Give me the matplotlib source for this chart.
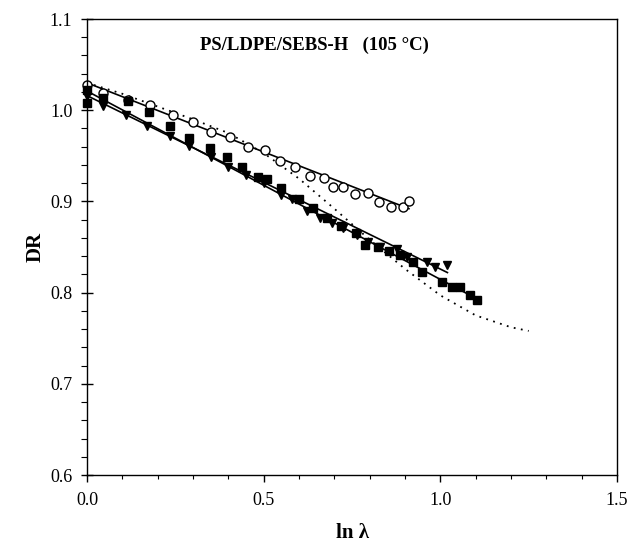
import matplotlib
matplotlib.use("Agg")
import matplotlib.pyplot as plt
from matplotlib.ticker import MultipleLocator

plt.rcParams['font.family'] = ['Liberation Serif', 'DejaVu Serif']

# open circles
circ_x = [0.0, 0.045, 0.116, 0.178, 0.243, 0.30, 0.352, 0.405, 0.456, 0.504, 0.546, 0.59,
          0.631, 0.671, 0.696, 0.724, 0.759, 0.795, 0.827, 0.860, 0.894, 0.911]
circ_y = [1.028, 1.019, 1.011, 1.006, 0.995, 0.987, 0.976, 0.971, 0.960, 0.956, 0.944, 0.938,
          0.928, 0.926, 0.916, 0.916, 0.908, 0.909, 0.899, 0.894, 0.894, 0.900]

# filled squares
sq_x = [0.0, 0.0, 0.045, 0.116, 0.176, 0.235, 0.29, 0.348, 0.396, 0.44, 0.484, 0.51, 0.55,
        0.60, 0.64, 0.68, 0.72, 0.76, 0.787, 0.824, 0.855, 0.886, 0.923, 0.948, 1.005, 1.033,
        1.056, 1.084, 1.104]
sq_y = [1.022, 1.008, 1.013, 1.010, 0.998, 0.983, 0.970, 0.959, 0.949, 0.938, 0.927, 0.925,
        0.915, 0.903, 0.893, 0.882, 0.873, 0.865, 0.852, 0.850, 0.846, 0.841, 0.834, 0.823,
        0.812, 0.806, 0.806, 0.797, 0.792]

# filled down-triangles
tri_x = [0.0, 0.045, 0.11, 0.17, 0.235, 0.29, 0.35, 0.40, 0.45, 0.50, 0.55, 0.58, 0.623,
         0.66, 0.693, 0.725, 0.764, 0.795, 0.83, 0.877, 0.906, 0.962, 0.985, 1.019]
tri_y = [1.016, 1.005, 0.995, 0.983, 0.972, 0.961, 0.949, 0.938, 0.929, 0.920, 0.907, 0.903,
         0.890, 0.882, 0.876, 0.871, 0.863, 0.856, 0.850, 0.848, 0.839, 0.834, 0.828, 0.830]

# fitted straight lines (end points)
fit_circ_x = [0.0, 0.911]
fit_circ_y = [1.030, 0.892]
fit_sq_x = [0.0, 1.104]
fit_sq_y = [1.021, 0.793]
fit_tri_x = [0.0, 1.02]
fit_tri_y = [1.016, 0.822]

# dotted curve
dot_x = [0.0, 0.1, 0.2, 0.3, 0.4, 0.5, 0.6, 0.7, 0.8, 0.9, 1.0, 1.1, 1.2, 1.25]
dot_y = [1.030, 1.018, 1.004, 0.990, 0.975, 0.953, 0.925, 0.892, 0.858, 0.826, 0.797, 0.775,
         0.762, 0.758]

fig = plt.figure(figsize=(6.32, 5.51), dpi=100)
ax = fig.add_axes([0.1377, 0.1379, 0.8386, 0.8276])

ax.plot(dot_x, dot_y, color='black', linestyle=(0, (1, 3)), linewidth=1.3)
ax.plot(fit_circ_x, fit_circ_y, color='black', linewidth=1.2)
ax.plot(fit_sq_x, fit_sq_y, color='black', linewidth=1.2)
ax.plot(fit_tri_x, fit_tri_y, color='black', linewidth=1.2)
ax.plot(circ_x, circ_y, 'o', mfc='white', mec='black', mew=1.0, ms=6.5, clip_on=False)
ax.plot(sq_x, sq_y, 's', color='black', ms=6, clip_on=False)
ax.plot(tri_x, tri_y, 'v', color='black', ms=6, clip_on=False)

ax.set_xlim(0, 1.5)
ax.set_ylim(0.6, 1.1)
ax.xaxis.set_major_locator(MultipleLocator(0.5))
ax.xaxis.set_minor_locator(MultipleLocator(0.1))
ax.yaxis.set_major_locator(MultipleLocator(0.1))
ax.yaxis.set_minor_locator(MultipleLocator(0.02))
ax.xaxis.set_major_formatter(matplotlib.ticker.FormatStrFormatter('%.1f'))
ax.yaxis.set_major_formatter(matplotlib.ticker.FormatStrFormatter('%.1f'))

ax.tick_params(axis='y', which='major', direction='inout', length=9, width=1, labelsize=13, pad=6)
ax.tick_params(axis='y', which='minor', direction='out', length=4, width=0.8)
ax.tick_params(axis='x', which='major', direction='out', length=5, width=1, labelsize=13, pad=7)
ax.tick_params(axis='x', which='minor', direction='out', length=3, width=0.8)
for s in ax.spines.values():
    s.set_linewidth(1.0)

ax.set_xlabel('ln λ', fontsize=15, fontweight='bold', labelpad=10)
ax.set_ylabel('DR', fontsize=15, fontweight='bold', labelpad=3)
ax.text(0.32, 1.071, 'PS/LDPE/SEBS-H   (105 °C)', fontsize=13.5, fontweight='bold',
        ha='left', va='center')

fig.savefig('out.png', dpi=100)
